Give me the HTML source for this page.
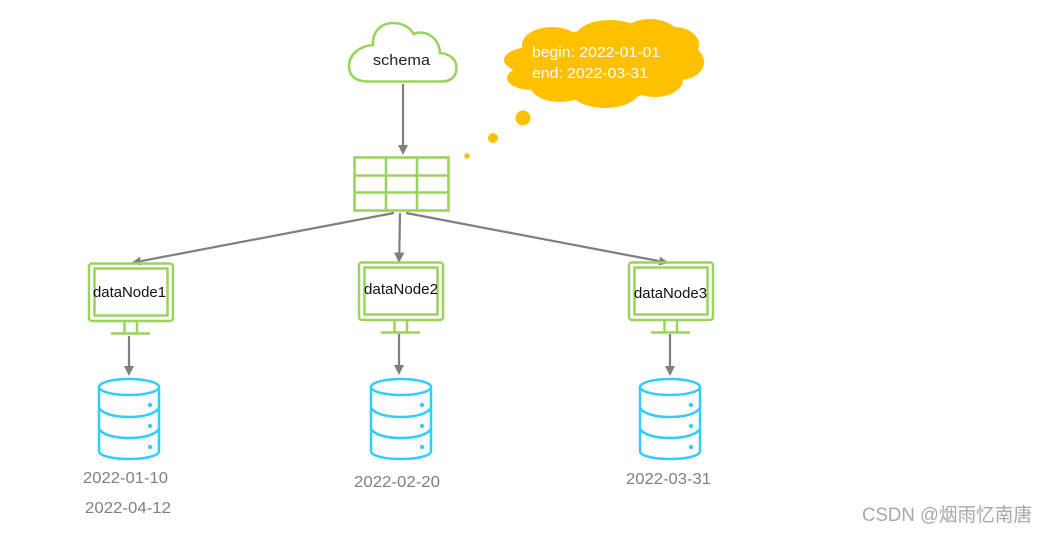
<!DOCTYPE html>
<html>
<head>
<meta charset="utf-8">
<style>
html,body{margin:0;padding:0;background:#fff;width:1048px;height:533px;overflow:hidden}
svg{display:block}
text{font-family:"Liberation Sans","Noto Sans CJK SC",sans-serif}
</style>
</head>
<body>
<svg width="1048" height="533" viewBox="0 0 1048 533" xmlns="http://www.w3.org/2000/svg">
<defs>
<g id="mon" fill="none" stroke="#9ad45c">
  <rect x="89" y="263.500" width="84" height="57.500" rx="3" stroke-width="2.500"/>
  <rect x="94.500" y="268.500" width="73" height="47" stroke-width="2.500"/>
  <path d="M124.500 321V333M137 321V333M111 333.500H150" stroke-width="2.500"/>
</g>
<g id="db" fill="none" stroke="#33ccff" stroke-width="2.500">
  <ellipse cx="129" cy="387" rx="30" ry="8"/>
  <path d="M99 387V451C99 456 113 459 129 459C145 459 159 456 159 451V387"/>
  <path d="M99 408C103 414 115 417 129 417C143 417 155 414 159 408"/>
  <path d="M99 429C103 435 115 438 129 438C143 438 155 435 159 429"/>
  <circle cx="150" cy="405" r="2.200" fill="#33ccff" stroke="none"/>
  <circle cx="150" cy="426" r="2.200" fill="#33ccff" stroke="none"/>
  <circle cx="150" cy="447" r="2.200" fill="#33ccff" stroke="none"/>
</g>
</defs>

<!-- schema cloud -->
<path d="M367 81.500C355 81.500 349 75 349 66C349 55 359 46 373 45C372 32 381 23 393 23C402 23 410 27 413.500 34C426 29 439 38 440 53C451 54 456.500 60 456.500 68C456.500 76 451 81.500 442 81.500Z" fill="#fff" stroke="#9ad45c" stroke-width="2.600"/>
<text x="373" y="65" font-size="15" fill="#222" textLength="57" lengthAdjust="spacingAndGlyphs">schema</text>

<!-- thought cloud -->
<g fill="#ffc000">
  <ellipse cx="600" cy="65" rx="82" ry="35"/>
  <ellipse cx="532" cy="60" rx="28" ry="13"/>
  <ellipse cx="532" cy="78" rx="25" ry="12"/>
  <ellipse cx="552" cy="45" rx="30" ry="18"/>
  <ellipse cx="610" cy="38" rx="35" ry="18"/>
  <ellipse cx="650" cy="38" rx="30" ry="19"/>
  <ellipse cx="675" cy="45" rx="24" ry="18"/>
  <ellipse cx="680" cy="62" rx="24" ry="18"/>
  <ellipse cx="655" cy="80" rx="28" ry="17"/>
  <ellipse cx="605" cy="90" rx="35" ry="18"/>
  <ellipse cx="560" cy="85" rx="30" ry="17"/>
  <circle cx="523" cy="118" r="7.500"/>
  <circle cx="493" cy="138" r="5"/>
  <circle cx="467" cy="156" r="2.700"/>
</g>
<text x="532" y="57" font-size="15" fill="#fff" textLength="128" lengthAdjust="spacingAndGlyphs">begin: 2022-01-01</text>
<text x="532" y="78" font-size="15" fill="#fff" textLength="116" lengthAdjust="spacingAndGlyphs">end: 2022-03-31</text>

<!-- table -->
<g fill="none" stroke="#9ad45c" stroke-width="2.600">
  <rect x="354.500" y="157.500" width="94" height="53"/>
  <path d="M386 157V211M417 157V211M354 175.500H449M354 192.500H449"/>
</g>

<!-- connectors -->
<g stroke="#7f7f7f" stroke-width="2.200" fill="none">
  <path d="M403 84V146"/>
  <path d="M394 213L141 261.100"/>
  <path d="M400 213L399.300 253"/>
  <path d="M406 213L659 261.100"/>
  <path d="M129 336V367"/>
  <path d="M399 334V366"/>
  <path d="M670 334V367"/>
</g>
<g fill="#7f7f7f">
  <path d="M403 155L398 145H408Z"/>
  <path d="M131 263L140 256.700L141.600 265.500Z"/>
  <path d="M399 263L394 252.500H404.500Z"/>
  <path d="M669 263L658.400 265.500L660 256.700Z"/>
  <path d="M129 376L124 366H134Z"/>
  <path d="M399 375L394 365H404Z"/>
  <path d="M670 376L665 366H675Z"/>
</g>

<!-- monitors -->
<use href="#mon"/>
<use href="#mon" x="270" y="-1"/>
<use href="#mon" x="540" y="-1"/>
<text x="93" y="297" font-size="15" fill="#111" textLength="73" lengthAdjust="spacingAndGlyphs">dataNode1</text>
<text x="364" y="294" font-size="15" fill="#111" textLength="74" lengthAdjust="spacingAndGlyphs">dataNode2</text>
<text x="634" y="298" font-size="15" fill="#111" textLength="73" lengthAdjust="spacingAndGlyphs">dataNode3</text>

<!-- databases -->
<use href="#db"/>
<use href="#db" x="272"/>
<use href="#db" x="541"/>

<!-- date labels -->
<g font-size="16" fill="#7f7f7f">
  <text x="83" y="483" textLength="85" lengthAdjust="spacingAndGlyphs">2022-01-10</text>
  <text x="85" y="513" textLength="86" lengthAdjust="spacingAndGlyphs">2022-04-12</text>
  <text x="354" y="487" textLength="86" lengthAdjust="spacingAndGlyphs">2022-02-20</text>
  <text x="626" y="484" textLength="85" lengthAdjust="spacingAndGlyphs">2022-03-31</text>
</g>

<!-- watermark -->
<text x="862" y="521" font-size="19" fill="#a8a8a8" textLength="170" lengthAdjust="spacingAndGlyphs">CSDN @烟雨忆南唐</text>
</svg>
</body>
</html>
